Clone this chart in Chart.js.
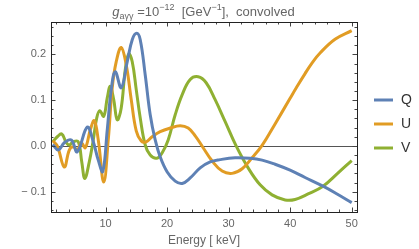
<!DOCTYPE html>
<html>
<head>
<meta charset="utf-8">
<script src="https://cdn.jsdelivr.net/npm/chart.js@4.4.0/dist/chart.umd.min.js"></script>
<style>
  html, body { margin: 0; padding: 0; background: #fff; }
  #wrap { width: 419px; height: 249px; }
</style>
</head>
<body>
<div id="wrap"><canvas id="chart-stokes" width="419" height="249"></canvas></div>
<script>
// Stokes-Parameter (convolved)
var qEnergy = [1.43, 2.33, 3.30, 4.44, 5.41, 7.03, 8.01, 8.82, 9.55, 10.28, 10.93, 11.58, 12.55, 13.53, 14.34, 15.07, 15.64, 16.45, 17.26, 18.07, 18.88, 20.02, 21.32, 22.46, 23.76, 25.38, 27.00, 28.62, 31.06, 33.49, 35.44, 37.55, 39.99, 42.42, 45.34, 47.62, 50.0];
var qValues = [0.003, -0.009, 0.007, 0.013, -0.013, 0.041, 0.009, -0.031, -0.056, 0.035, 0.123, 0.162, 0.127, 0.184, 0.232, 0.246, 0.232, 0.155, 0.068, 0.013, -0.024, -0.057, -0.077, -0.082, -0.070, -0.048, -0.035, -0.030, -0.026, -0.027, -0.031, -0.040, -0.053, -0.069, -0.088, -0.105, -0.124];

var uEnergy = [1.43, 2.16, 3.30, 4.11, 4.76, 5.41, 6.06, 6.71, 7.52, 8.17, 8.82, 9.71, 10.44, 11.09, 11.74, 12.55, 13.36, 14.18, 14.99, 15.80, 16.61, 17.58, 18.88, 20.51, 22.13, 23.43, 24.57, 25.86, 27.33, 28.95, 30.57, 32.20, 33.82, 35.44, 37.55, 39.99, 41.0, 42.42, 43.6, 44.86, 47.29, 50.0];
var uValues = [0.011, 0.0, -0.046, -0.009, -0.002, -0.009, 0.007, -0.004, 0.035, 0.055, 0.013, -0.079, 0.013, 0.127, 0.184, 0.215, 0.177, 0.101, 0.033, 0.011, 0.009, 0.020, 0.031, 0.039, 0.044, 0.039, 0.022, -0.004, -0.033, -0.055, -0.060, -0.050, -0.026, 0.001, 0.048, 0.104, 0.127, 0.158, 0.182, 0.203, 0.233, 0.252];

var vEnergy = [1.43, 2.16, 2.89, 3.62, 4.11, 4.76, 5.57, 6.14, 6.63, 7.36, 8.01, 8.57, 9.06, 9.71, 10.28, 10.77, 11.33, 11.90, 12.55, 13.20, 13.77, 14.34, 14.99, 15.64, 16.45, 17.26, 18.32, 19.21, 20.18, 21.32, 22.46, 23.76, 25.05, 26.35, 27.81, 29.44, 31.22, 33.17, 35.12, 37.06, 39.18, 40.80, 42.91, 45.34, 47.62, 50.0];
var vValues = [0.009, 0.020, 0.026, 0.007, 0.002, 0.009, 0.009, -0.035, -0.071, -0.035, 0.013, 0.061, 0.077, 0.065, 0.105, 0.130, 0.101, 0.057, 0.083, 0.166, 0.201, 0.184, 0.123, 0.061, 0.002, -0.020, -0.027, -0.015, 0.013, 0.068, 0.112, 0.145, 0.151, 0.138, 0.101, 0.053, 0.0, -0.048, -0.085, -0.107, -0.118, -0.117, -0.105, -0.088, -0.061, -0.032];

var seriesNames = ['Q', 'U', 'V'];
var seriesColors = ['#5e81b5', '#e19c24', '#8fb032'];

var xTickValues = [10, 20, 30, 40, 50];
var yTickValues = [-0.1, 0.0, 0.1, 0.2];
var xTitle = 'Energy [ keV]';

var FONT = '"Liberation Sans", Arial, sans-serif';
var GRAY = '#666';

function toPoints(xs, ys) {
  return xs.map(function(x, i) { return { x: x, y: ys[i] }; });
}

// 副目盛り (Mathematica風、内向き)
var xMinor = [], yMinor = [];
for (var i = 2; i <= 50; i += 2) if (i % 10 !== 0) xMinor.push(i);
for (var j = -7; j <= 13; j++) if (j % 5 !== 0) yMinor.push(j * 0.02);

var framePlugin = {
  id: 'frame',
  beforeDatasetsDraw: function(c) {
    var ctx = c.ctx, a = c.chartArea;
    var y0 = Math.round(c.scales.y.getPixelForValue(0)) + 0.5;
    ctx.save();
    ctx.strokeStyle = '#555';
    ctx.lineWidth = 1;
    ctx.beginPath();
    ctx.moveTo(a.left, y0);
    ctx.lineTo(a.right, y0);
    ctx.stroke();
    ctx.restore();
  },
  afterDraw: function(c) {
    var ctx = c.ctx, a = c.chartArea, xs = c.scales.x, ys = c.scales.y;
    ctx.save();
    ctx.strokeStyle = '#444';
    ctx.lineWidth = 1;
    function xTick(v, len) {
      var p = Math.round(xs.getPixelForValue(v)) + 0.5;
      ctx.moveTo(p, a.bottom); ctx.lineTo(p, a.bottom - len);
      ctx.moveTo(p, a.top); ctx.lineTo(p, a.top + len);
    }
    function yTick(v, len) {
      var p = Math.round(ys.getPixelForValue(v)) + 0.5;
      ctx.moveTo(a.left, p); ctx.lineTo(a.left + len, p);
      ctx.moveTo(a.right, p); ctx.lineTo(a.right - len, p);
    }
    ctx.beginPath();
    xTickValues.forEach(function(v) { xTick(v, 4.5); });
    xMinor.forEach(function(v) { xTick(v, 2.5); });
    yTickValues.forEach(function(v) { yTick(v, 4.5); });
    yMinor.forEach(function(v) { yTick(v, 2.5); });
    ctx.stroke();

    ctx.strokeStyle = '#222';
    ctx.strokeRect(Math.round(a.left) + 0.5, Math.round(a.top) + 0.5,
      Math.round(a.right - a.left), Math.round(a.bottom - a.top));
    ctx.restore();
  }
};

// タイトル (上付き・下付き文字あり)
var titlePlugin = {
  id: 'richTitle',
  afterDraw: function(c) {
    var ctx = c.ctx;
    var big = '13px ' + FONT, small = '9px ' + FONT;
    var parts = [
      { t: 'g', f: 'italic ' + big, dy: 0 },
      { t: 'a\u03b3\u03b3', f: small, dy: 3 },
      { t: ' =10', f: big, dy: 0 },
      { t: '\u221212', f: small, dy: -6 },
      { t: '  [GeV', f: big, dy: 0 },
      { t: '\u22121', f: small, dy: -6 },
      { t: '],  convolved', f: big, dy: 0 }
    ];
    ctx.save();
    ctx.fillStyle = GRAY;
    ctx.textBaseline = 'alphabetic';
    var total = 0;
    parts.forEach(function(p) { ctx.font = p.f; p.w = ctx.measureText(p.t).width; total += p.w; });
    var x = 203.5 - total / 2, base = 15.5;
    parts.forEach(function(p) {
      ctx.font = p.f;
      ctx.fillText(p.t, x, base + p.dy);
      x += p.w;
    });
    ctx.restore();
  }
};

var legendPlugin = {
  id: 'sideLegend',
  afterDraw: function(c) {
    var ctx = c.ctx;
    ctx.save();
    ctx.font = '14px ' + FONT;
    ctx.textBaseline = 'middle';
    seriesNames.forEach(function(name, k) {
      var y = 100 + k * 24;
      ctx.strokeStyle = seriesColors[k];
      ctx.lineWidth = 3;
      ctx.beginPath();
      ctx.moveTo(374, y);
      ctx.lineTo(393, y);
      ctx.stroke();
      ctx.fillStyle = '#333';
      ctx.fillText(name, 401, y);
    });
    ctx.restore();
  }
};

var seriesData = [toPoints(qEnergy, qValues), toPoints(uEnergy, uValues), toPoints(vEnergy, vValues)];

var chart = new Chart(document.getElementById('chart-stokes'), {
  type: 'line',
  data: {
    datasets: seriesNames.map(function(name, k) {
      return {
        label: name,
        data: seriesData[k],
        borderColor: seriesColors[k],
        borderWidth: 3,
        pointRadius: 0,
        fill: false,
        tension: 0.4
      };
    })
  },
  options: {
    responsive: false,
    animation: false,
    events: [],
    layout: { padding: { top: 22, right: 62, left: 0, bottom: 0 } },
    plugins: {
      legend: { display: false },
      title: { display: false },
      tooltip: { enabled: false }
    },
    scales: {
      x: {
        type: 'linear',
        min: 1.14,
        max: 50.86,
        grid: { display: false, drawTicks: false },
        border: { display: false },
        afterBuildTicks: function(s) { s.ticks = xTickValues.map(function(v) { return { value: v }; }); },
        afterFit: function(s) { s.height = 37; },
        ticks: {
          color: GRAY,
          font: { family: FONT, size: 11 },
          padding: 5,
          maxRotation: 0,
          callback: function(v) { return String(v); }
        },
        title: {
          display: true,
          text: xTitle,
          color: GRAY,
          font: { family: FONT, size: 12 },
          padding: { top: 0, bottom: 1 }
        }
      },
      y: {
        min: -0.1444,
        max: 0.2707,
        grid: { display: false, drawTicks: false },
        border: { display: false },
        afterBuildTicks: function(s) { s.ticks = yTickValues.map(function(v) { return { value: v }; }); },
        afterFit: function(s) { s.width = 51; },
        ticks: {
          color: GRAY,
          font: { family: FONT, size: 11 },
          padding: 5,
          callback: function(v) {
            return v < 0 ? '\u2212 ' + Math.abs(v).toFixed(1) : v.toFixed(1);
          }
        }
      }
    }
  },
  plugins: [framePlugin, titlePlugin, legendPlugin]
});
</script>
</body>
</html>
